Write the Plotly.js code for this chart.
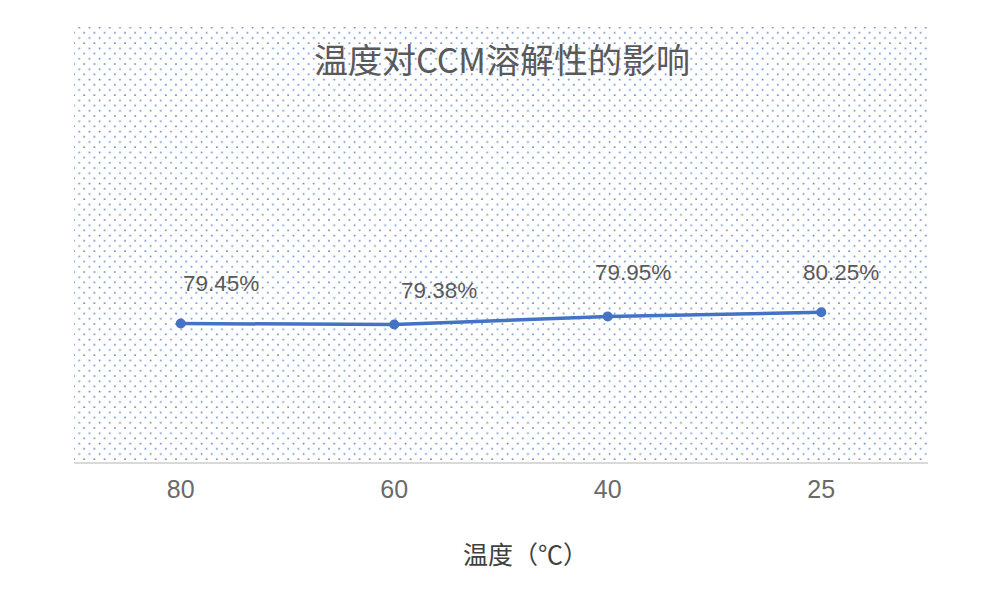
<!DOCTYPE html>
<html>
<head>
<meta charset="utf-8">
<script src="https://cdn.plot.ly/plotly-3.0.1.min.js"></script>
<style>html,body{margin:0;padding:0;background:#fff;}#chart{width:1000px;height:598px;}</style>
</head>
<body>
<div id="chart"></div>
<script>
// Data
const categories = ['80', '60', '40', '25'];
const values = [79.45, 79.38, 79.95, 80.25];
const labelTexts = values.map(v => v.toFixed(2) + '%');
const chartTitle = '温度对CCM溶解性的影响';
const xTitle = '温度（℃）';

// label offsets (px) – style only
const labelShiftX = [40, 45, 25, 20];
const labelShiftY = [40, 34, 44, 40];

const W = 854, H = 435;
const svg = `<svg xmlns="http://www.w3.org/2000/svg" width="${W}" height="${H}">` +
  `<defs><pattern id="p" x="0" y="0" width="10.2" height="10.4" patternUnits="userSpaceOnUse">` +
  `<rect x="4.4" y="-0.2" width="1.6" height="1.6" fill="#4472C4" fill-opacity="0.85"/>` +
  `<rect x="-0.8" y="5.0" width="1.6" height="1.6" fill="#4472C4" fill-opacity="0.85"/>` +
  `<rect x="9.4" y="5.0" width="1.6" height="1.6" fill="#4472C4" fill-opacity="0.85"/>` +
  `<rect x="4.4" y="10.2" width="1.6" height="1.6" fill="#4472C4" fill-opacity="0.85"/>` +
  `</pattern></defs><rect width="${W}" height="${H}" fill="url(#p)"/></svg>`;
const bgSrc = 'data:image/svg+xml;charset=utf-8,' + encodeURIComponent(svg);

const trace = {
  x: categories,
  y: values,
  type: 'scatter',
  mode: 'lines+markers',
  line: {color: '#4472C4', width: 3.5},
  marker: {color: '#4472C4', size: 10},
  hoverinfo: 'skip',
  cliponaxis: false
};

const annotations = categories.map((c, i) => ({
  x: i, y: values[i], xref: 'x', yref: 'y',
  text: labelTexts[i], showarrow: false,
  xshift: labelShiftX[i], yshift: labelShiftY[i],
  xanchor: 'center', yanchor: 'middle',
  font: {family: '"Liberation Sans", Arial, sans-serif', size: 22.5, color: '#595959'}
}));
annotations.push({
  x: 0.529, y: -0.21, xref: 'paper', yref: 'paper',
  text: xTitle, showarrow: false, xanchor: 'center', yanchor: 'middle',
  font: {family: '"Noto Sans CJK SC", sans-serif', size: 25, color: '#404040'}
});

const layout = {
  width: 1000, height: 598,
  margin: {l: 74, r: 72, t: 27, b: 136},
  paper_bgcolor: '#ffffff',
  plot_bgcolor: 'rgba(0,0,0,0)',
  showlegend: false,
  title: {
    text: chartTitle, x: 0.502, xref: 'container', xanchor: 'center',
    y: 1 - 61 / 598, yref: 'container', yanchor: 'middle',
    font: {family: '"Noto Sans CJK SC", sans-serif', size: 34, color: '#595959'}
  },
  xaxis: {
    type: 'category', range: [-0.5, 3.5],
    showgrid: false, zeroline: false,
    showline: true, linecolor: '#D9D9D9', linewidth: 1.5,
    ticks: '', ticklabelstandoff: 4,
    tickfont: {family: '"Liberation Sans", Arial, sans-serif', size: 25, color: '#6a6a6a'},
    fixedrange: true
  },
  yaxis: {
    range: [69.56, 100.63], visible: false, showgrid: false, zeroline: false, fixedrange: true
  },
  images: [{
    source: bgSrc, xref: 'paper', yref: 'paper', x: 0, y: 1, sizex: 1, sizey: 1,
    xanchor: 'left', yanchor: 'top', sizing: 'stretch', layer: 'below'
  }],
  annotations: annotations
};

Plotly.newPlot('chart', [trace], layout, {displayModeBar: false, staticPlot: true});
</script>
</body>
</html>
